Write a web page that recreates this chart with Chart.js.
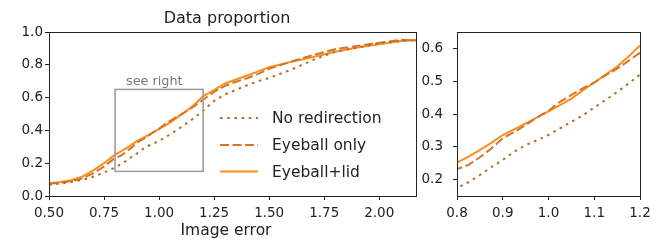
<!DOCTYPE html>
<html>
<head>
<meta charset="utf-8">
<script src="https://cdn.jsdelivr.net/npm/chart.js@4"></script>
<style>
  html, body { margin: 0; padding: 0; background: #fff; }
  #wrap { position: relative; width: 661px; height: 241px; }
  #left { position: absolute; left: 0; top: 0; }
  #right { position: absolute; left: 418px; top: 0; }
</style>
</head>
<body>
<div id="wrap">
  <canvas id="left" width="418" height="241"></canvas>
  <canvas id="right" width="243" height="241"></canvas>
</div>
<script>
// Image error (x) and data proportion (y) for each method
const imageError = [0.5, 0.55, 0.6, 0.65, 0.7, 0.75, 0.8, 0.825, 0.85, 0.875, 0.9, 0.925, 0.95, 0.975,
  1.0, 1.025, 1.05, 1.075, 1.1, 1.125, 1.15, 1.175, 1.2, 1.25, 1.3, 1.35, 1.4, 1.45, 1.5, 1.6, 1.7, 1.8,
  1.9, 2.0, 2.1, 2.17];
const noRedirection = [0.068, 0.075, 0.086, 0.098, 0.117, 0.143, 0.174, 0.192, 0.214, 0.238, 0.26, 0.285, 0.305, 0.32,
  0.336, 0.356, 0.376, 0.396, 0.42, 0.443, 0.467, 0.493, 0.52, 0.58, 0.62, 0.648, 0.675, 0.7, 0.72, 0.77, 0.83, 0.88,
  0.905, 0.93, 0.945, 0.95];
const eyeballOnly = [0.075, 0.081, 0.09, 0.106, 0.138, 0.18, 0.232, 0.245, 0.268, 0.295, 0.326, 0.345, 0.366, 0.39,
  0.41, 0.437, 0.458, 0.478, 0.496, 0.518, 0.538, 0.562, 0.587, 0.635, 0.672, 0.697, 0.718, 0.745, 0.775, 0.82, 0.86, 0.895,
  0.915, 0.935, 0.952, 0.948];
const eyeballLid = [0.077, 0.085, 0.096, 0.118, 0.155, 0.2, 0.252, 0.27, 0.29, 0.312, 0.336, 0.353, 0.371, 0.39,
  0.408, 0.427, 0.447, 0.472, 0.496, 0.52, 0.545, 0.575, 0.609, 0.645, 0.686, 0.71, 0.735, 0.76, 0.785, 0.818, 0.848, 0.88,
  0.905, 0.925, 0.945, 0.951];
const seriesNames = ['No redirection', 'Eyeball only', 'Eyeball+lid'];

const leftXTicks = [0.5, 0.75, 1.0, 1.25, 1.5, 1.75, 2.0];
const leftYTicks = [0.0, 0.2, 0.4, 0.6, 0.8, 1.0];
const rightXTicks = [0.8, 0.9, 1.0, 1.1, 1.2];
const rightYTicks = [0.2, 0.3, 0.4, 0.5, 0.6];
const zoomX = [0.8, 1.2];
const zoomY = [0.15, 0.65];

const FONT = "'DejaVu Sans', sans-serif";
const styles = [
  { color: '#bd6a22', dash: [2.6, 4.6] },
  { color: '#d0772a', dash: [9, 3.5] },
  { color: '#ff8c1f', dash: [] }
];

function makeDatasets() {
  return [noRedirection, eyeballOnly, eyeballLid].map((vals, i) => ({
    label: seriesNames[i],
    data: imageError.map((x, j) => ({ x: x, y: vals[j] })),
    borderColor: styles[i].color,
    borderDash: styles[i].dash,
    borderWidth: 2,
    pointRadius: 0,
    tension: 0,
    fill: false
  }));
}

function axis(min, max, ticks, decimals, fit, pad) {
  return {
    type: 'linear',
    min: min,
    max: max,
    afterBuildTicks: s => { s.ticks = ticks.map(v => ({ value: v })); },
    afterFit: fit,
    grid: { display: true, drawOnChartArea: false, tickLength: 4, color: '#222', lineWidth: 1 },
    border: { display: true, color: '#222', width: 1 },
    ticks: {
      autoSkip: false, maxRotation: 0, padding: pad, color: '#222',
      font: { family: FONT, size: 13.5 },
      callback: v => Number(v).toFixed(decimals)
    }
  };
}

// full box around plot area
const frame = {
  id: 'frame',
  afterDatasetsDraw(chart) {
    const a = chart.chartArea, ctx = chart.ctx;
    ctx.save();
    ctx.strokeStyle = '#222';
    ctx.lineWidth = 1;
    ctx.strokeRect(Math.round(a.left) + 0.5, Math.round(a.top) + 0.5, Math.round(a.right - a.left), Math.round(a.bottom - a.top));
    ctx.restore();
  }
};

// title, axis label, "see right" box and legend on left chart
const leftDecor = {
  id: 'leftDecor',
  afterDraw(chart) {
    const ctx = chart.ctx, xs = chart.scales.x, ys = chart.scales.y;
    ctx.save();
    ctx.fillStyle = '#222';
    ctx.textAlign = 'center';
    ctx.textBaseline = 'middle';
    ctx.font = '16px ' + FONT;
    ctx.fillText('Data proportion', 227, 19);
    ctx.font = '15.5px ' + FONT;
    ctx.fillText('Image error', 226, 231);

    const bx0 = xs.getPixelForValue(zoomX[0]), bx1 = xs.getPixelForValue(zoomX[1]);
    const by0 = ys.getPixelForValue(zoomY[1]), by1 = ys.getPixelForValue(zoomY[0]);
    ctx.strokeStyle = '#999';
    ctx.lineWidth = 1.5;
    ctx.strokeRect(bx0, by0, bx1 - bx0, by1 - by0);
    ctx.fillStyle = '#777';
    ctx.textAlign = 'left';
    ctx.font = '12.8px ' + FONT;
    ctx.fillText('see right', bx0 + 11, by0 - 8);

    const rows = [118, 145, 171.5];
    ctx.font = '15.5px ' + FONT;
    styles.forEach((st, i) => {
      ctx.strokeStyle = st.color;
      ctx.lineWidth = 2;
      ctx.setLineDash(st.dash);
      ctx.beginPath();
      ctx.moveTo(220, rows[i]);
      ctx.lineTo(258, rows[i]);
      ctx.stroke();
      ctx.setLineDash([]);
      ctx.fillStyle = '#222';
      ctx.fillText(seriesNames[i], 272, rows[i] + 1);
    });
    ctx.restore();
  }
};

new Chart(document.getElementById('left'), {
  type: 'line',
  data: { datasets: makeDatasets() },
  options: {
    responsive: false,
    animation: false,
    layout: { padding: { top: 32, right: 2, bottom: 0, left: 0 } },
    plugins: { legend: { display: false }, tooltip: { enabled: false } },
    scales: {
      x: axis(0.5, 2.167, leftXTicks, 2, s => { s.height = 45; }, 5),
      y: axis(0, 1, leftYTicks, 1, s => { s.width = 49; }, 2)
    }
  },
  plugins: [frame, leftDecor]
});

new Chart(document.getElementById('right'), {
  type: 'line',
  data: { datasets: makeDatasets() },
  options: {
    responsive: false,
    animation: false,
    layout: { padding: { top: 32, right: 21, bottom: 0, left: 0 } },
    plugins: { legend: { display: false }, tooltip: { enabled: false } },
    scales: {
      x: axis(zoomX[0], zoomX[1], rightXTicks, 1, s => { s.height = 45; }, 5),
      y: axis(zoomY[0], zoomY[1], rightYTicks, 1, s => { s.width = 39; }, 10)
    }
  },
  plugins: [frame]
});
</script>
</body>
</html>
